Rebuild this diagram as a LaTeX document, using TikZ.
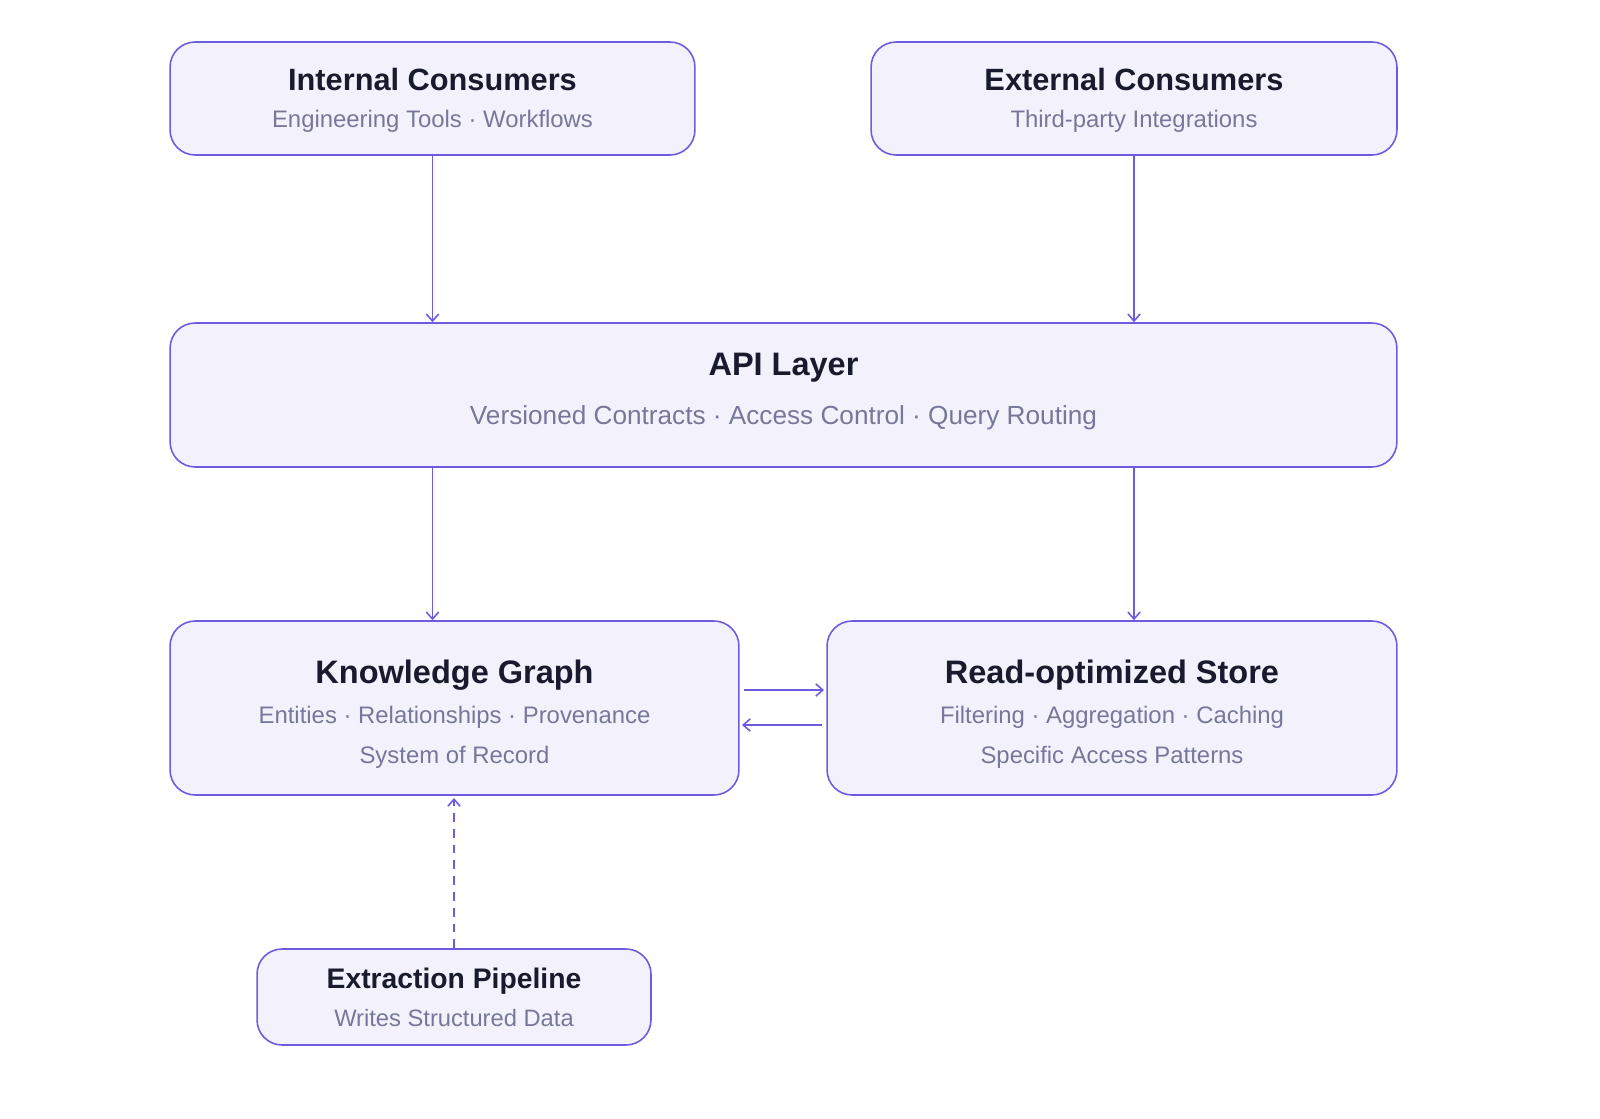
\documentclass[tikz,border=0pt]{standalone}
\usepackage{fontspec}
\setmainfont{Liberation Sans}
\usetikzlibrary{arrows.meta}
\definecolor{edge}{HTML}{6C5CE0}
\definecolor{boxfill}{HTML}{F3F2FC}
\definecolor{ink}{HTML}{1A1A2E}
\definecolor{subink}{HTML}{77779A}
\tikzset{
  box/.style={draw=edge, fill=boxfill, line width=0.9pt, rounded corners=0.5cm, align=center, inner sep=0pt},
  flow/.style={draw=edge, line width=0.9pt, -{Straight Barb[length=4pt,width=7pt]}},
  title/.style={font=\bfseries\fontsize{17.5}{20}\selectfont, text=ink},
  bigtitle/.style={font=\bfseries\fontsize{18.5}{21}\selectfont, text=ink},
  sub/.style={font=\fontsize{13.6}{16}\selectfont, text=subink}
}
\begin{document}
\begin{tikzpicture}[x=0.02cm,y=-0.02cm]
\useasboundingbox (0,0) rectangle (1600,1119);

% consumers
\node[box, minimum width=10.5cm, minimum height=2.26cm] (internal) at (432.5,98.5) {};
\node[title] (internalT) at (432.5,80) {Internal Consumers};
\node[sub] (internalS) at (432.5,121) {Engineering Tools · Workflows};
\node[box, minimum width=10.52cm, minimum height=2.26cm] (external) at (1134,98.5) {};
\node[title] (externalT) at (1134,80) {External Consumers};
\node[sub] (externalS) at (1134,121) {Third-party Integrations};

% api
\node[box, minimum width=24.54cm, minimum height=2.88cm] (api) at (783.5,395) {};
\node[bigtitle] (apiT) at (783.5,368) {API Layer};
\node[sub, font=\fontsize{14.9}{17}\selectfont] (apiS) at (783.5,418) {Versioned Contracts · Access Control · Query Routing};

% stores
\node[box, minimum width=11.38cm, minimum height=3.48cm] (graph) at (454.5,708) {};
\node[bigtitle] at (454.5,675) {Knowledge Graph};
\node[sub] at (454.5,717) {Entities · Relationships · Provenance};
\node[sub] at (454.5,757) {System of Record};
\node[box, minimum width=11.4cm, minimum height=3.48cm] (store) at (1112,708) {};
\node[bigtitle] at (1112,675) {Read-optimized Store};
\node[sub] at (1112,717) {Filtering · Aggregation · Caching};
\node[sub] at (1112,757) {Specific Access Patterns};

% pipeline
\node[box, minimum width=7.88cm, minimum height=1.92cm] (pipe) at (454,997) {};
\node[title, font=\bfseries\fontsize{16.1}{18}\selectfont] at (454,981) {Extraction Pipeline};
\node[sub, font=\fontsize{13.5}{16}\selectfont] at (454,1018) {Writes Structured Data};

\coordinate (g1) at (744,690);
\coordinate (s1) at (824,690);
\coordinate (s2) at (822,725);
\coordinate (g2) at (742,725);
\coordinate (gIn) at (454,798);

\draw[flow] (internal.south) -- (api.north -| internal.south);
\draw[flow] (external.south) -- (api.north -| external.south);
\draw[flow] (api.south -| internal.south) -- (graph.north -| internal.south);
\draw[flow] (api.south -| external.south) -- (store.north -| external.south);
\draw[flow] (g1) -- (s1);
\draw[flow] (s2) -- (g2);
\draw[flow, dashed, dash pattern=on 5pt off 4pt] (pipe.north) -- (gIn);
\end{tikzpicture}
\end{document}
